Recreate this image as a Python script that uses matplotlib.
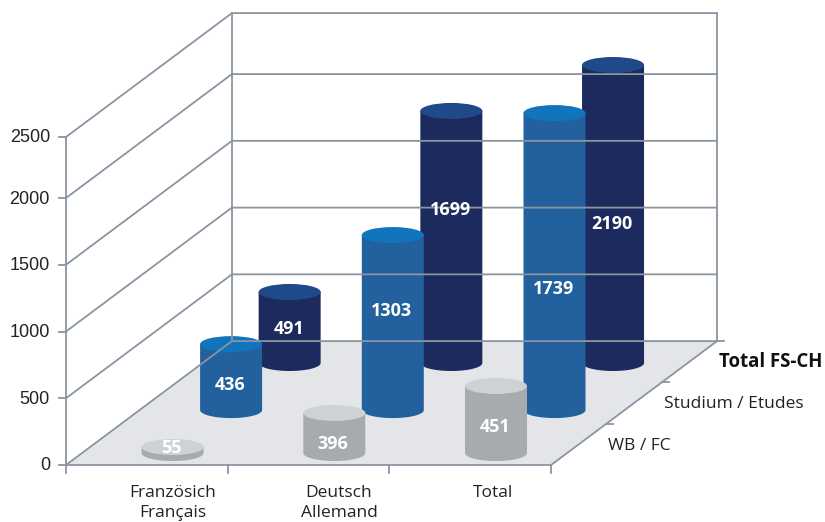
import numpy as np
import matplotlib
matplotlib.use('Agg')
import matplotlib.pyplot as plt
from matplotlib.patches import Polygon, Ellipse

categories = ['Französich\nFrançais', 'Deutsch\nAllemand', 'Total']
series_names = ['WB / FC', 'Studium / Etudes', 'Total FS-CH']
yticks = [0, 500, 1000, 1500, 2000, 2500]

# printed numbers
wb_labels = [55, 396, 451]
studium_labels = [436, 1303, 1739]
total_labels = [491, 1699, 2190]

# heights (the drawing does not follow its labels exactly)
wb_heights = [45, 300, 502]
studium_heights = [494, 1311, 2246]
total_heights = [532, 1888, 2254]

# where the label sits on the cylinder, share of its height
wb_label_pos = [1.0, 0.25, 0.4]
studium_label_pos = [0.4, 0.57, 0.41]
total_label_pos = [0.49, 0.61, 0.47]

# floor and wall geometry, in pixels
X0, Y0 = 66, 465
CAT_W = 161.7
DEPTH_X, DEPTH_Y = 55.3, 41.3
CAT_POS = [0.56, 1.56, 2.56]
SERIES_POS = [0.29, 1.33, 2.47]
SERIES_NUDGE = [0, 1, -3.5]
R_X, R_Y = 31, 8


def val_px(v):
    # the top step of the axis is a bit shorter in the reference
    return np.interp(v, [0, 2000, 2500], [0, 267, 328])


def project(u, w, v=0):
    return X0 + CAT_W * u + DEPTH_X * w, Y0 - DEPTH_Y * w - val_px(v)


def cylinder(ax, cx, cy, h, side, top):
    t = np.linspace(0, np.pi, 40)
    xs = cx + R_X * np.cos(t)
    ys = cy + R_Y * np.sin(t)
    body = np.vstack([[cx - R_X, cy - h], [cx + R_X, cy - h], np.column_stack([xs, ys])])
    ax.add_patch(Polygon(body, closed=True, fc=side, ec='none'))
    ax.add_patch(Ellipse((cx, cy - h), 2 * R_X, 2 * R_Y, fc=top, ec='none'))


fig = plt.figure(figsize=(8.25, 5.22), dpi=100)
ax = fig.add_axes([0, 0, 1, 1])
ax.set_xlim(0, 825)
ax.set_ylim(522, 0)
ax.axis('off')

line = '#8b94a1'
lw = 1.3

# floor
corners = [project(0, 0), project(3, 0), project(3, 3), project(0, 3)]
ax.add_patch(Polygon(corners, closed=True, fc='#e4e5e9', ec='none'))

# walls and gridlines
for v in yticks:
    x1, y1 = project(0, 0, v)
    x2, y2 = project(0, 3, v)
    x3, y3 = project(3, 3, v)
    ax.plot([x1, x2, x3], [y1, y2, y3], color=line, lw=lw, solid_joinstyle='miter')
    ax.plot([x1 - 7, x1], [y1, y1], color=line, lw=lw)
    ax.text(50, y1 + 1, str(v), ha='right', va='center', fontsize=13,
            family='Liberation Sans', color='#222222')

for u, w in [(0, 0), (0, 3), (3, 3)]:
    xa, ya = project(u, w, 0)
    xb, yb = project(u, w, 2500)
    ax.plot([xa, xb], [ya, yb], color=line, lw=lw)

# floor edges
ax.plot([corners[0][0], corners[1][0], corners[2][0]],
        [corners[0][1], corners[1][1], corners[2][1]], color=line, lw=lw)

# ticks under the floor
for i in range(4):
    xt, yt = project(i, 0)
    ax.plot([xt, xt], [yt, yt + 8], color=line, lw=lw)

# ticks on the right edge of the floor
for i in range(1, 4):
    xt, yt = project(3, i)
    ax.plot([xt, xt + 7], [yt, yt], color=line, lw=lw)

heights = [wb_heights, studium_heights, total_heights]
labels = [wb_labels, studium_labels, total_labels]
label_pos = [wb_label_pos, studium_label_pos, total_label_pos]
sides = ['#a7abae', '#22619e', '#1c2a5e']
tops = ['#cfd2d4', '#1175bd', '#1f4a8a']

# back row first so the front ones cover it
for s in [2, 1, 0]:
    for c in range(3):
        cx, cy = project(CAT_POS[c], SERIES_POS[s])
        cx += SERIES_NUDGE[s]
        h = val_px(heights[s][c])
        cylinder(ax, cx, cy, h, sides[s], tops[s])
        ax.text(cx - 1, cy - h * label_pos[s][c] + 1, str(labels[s][c]), ha='center', va='center',
                fontsize=13, fontweight='bold', family='Open Sans', color='white', zorder=5)

for name, xc in zip(categories, [173, 339, 493]):
    ax.text(xc, 485, name, ha='center', va='top', fontsize=12.5, family='Open Sans',
            color='#222222', linespacing=1.35)

ax.text(608, 445.5, series_names[0], ha='left', va='center', fontsize=12.5, family='Open Sans', color='#222222')
ax.text(664, 404.5, series_names[1], ha='left', va='center', fontsize=12.5, family='Open Sans', color='#222222')
ax.text(719, 362, series_names[2], ha='left', va='center', fontsize=13.4, fontweight='bold',
        family='Open Sans', color='#111111')

fig.savefig('out.png', dpi=100)
